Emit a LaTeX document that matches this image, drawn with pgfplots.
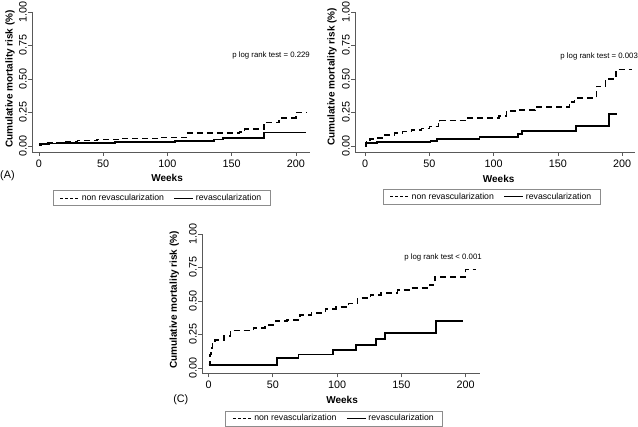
\documentclass[border=0pt]{standalone}
\usepackage{pgfplots}
\pgfplotsset{compat=1.18}
\usepackage{fontspec}
\setmainfont{Liberation Sans}
\definecolor{axgray}{gray}{0.35}
\pgfplotsset{
  km/.style={
    scale only axis, clip=false,
    axis x line*=bottom, axis y line*=left,
    axis line style={draw=axgray, line width=0.7pt},
    tick style={draw=axgray, line width=0.7pt},
    tick align=outside, major tick length=4pt,
    xtick={0,50,100,150,200},
    ytick={0,0.25,0.5,0.75,1},
    yticklabels={0.00,0.25,0.50,0.75,1.00},
    /pgf/number format/assume math mode=true,
    ticklabel style={font=\fontsize{10.8}{12}\selectfont},
    yticklabel style={rotate=90, anchor=south, inner sep=1pt},
    xlabel={Weeks},
    ylabel={Cumulative mortality risk (\%)},
    label style={font=\fontsize{10}{12}\selectfont\bfseries},
    legend columns=2,
    legend cell align=left,
    legend style={draw=black!45, line width=0.6pt, anchor=center,
      font=\fontsize{8.7}{10}\selectfont, inner xsep=7pt, inner ysep=1.5pt,
      /tikz/every even column/.append style={column sep=8pt}},
    legend image code/.code={\draw[#1] (0pt,0pt) -- (19pt,0pt);},
  },
  ndash/.style={black, line width=1.6pt, dash pattern=on 6pt off 4pt, const plot},
  nsolid/.style={black, line width=1.8pt, const plot},
}
\begin{document}
\begin{tikzpicture}
\path[use as bounding box] (0,0) rectangle (638pt,-427pt);

% ---------------- Panel A ----------------
\begin{axis}[km, at={(32pt,-152pt)}, anchor=south west,
  width=278pt, height=140pt,
  xmin=-5.4, xmax=211, ymin=-0.045, ymax=1.0,
  xlabel style={at={(axis description cs:0.486,-0.186)}, anchor=center},
  ylabel style={at={(axis description cs:-0.079,0.521)}, anchor=center, rotate=0},
  legend style={at={(axis description cs:0.466,-0.329)}}]
\addplot[ndash, forget plot] coordinates {(0,0.005) (1,0.015) (5,0.022) (14,0.027) (20,0.033) (30,0.04) (45,0.048) (62,0.055) (95,0.063) (115,0.095) (156,0.105) (160,0.125) (175,0.175) (187,0.21) (200,0.25) (208,0.25)};
\addplot[nsolid, forget plot] coordinates {(0,0.005) (2,0.015) (8,0.018) (18,0.022) (59,0.027) (94,0.032) (106,0.037) (136,0.048) (143,0.057) (175,0.10) (208,0.10)};
\addlegendimage{black, line width=0.9pt, dash pattern=on 3pt off 2pt}
\addlegendentry{non revascularization}
\addlegendimage{black, line width=1pt}
\addlegendentry{revascularization}
\node[anchor=east, inner sep=0pt, font=\fontsize{7.8}{9}\selectfont] at (axis description cs:1,0.686) {p log rank test = 0.229};
\node[anchor=west, inner sep=0pt, font=\fontsize{10.8}{12}\selectfont] at (axis description cs:-0.115,-0.171) {(A)};
\end{axis}

% ---------------- Panel B ----------------
\begin{axis}[km, at={(355pt,-152pt)}, anchor=south west,
  width=280pt, height=140pt,
  xmin=-7.8, xmax=210, ymin=-0.045, ymax=1.0,
  xlabel style={at={(axis description cs:0.513,-0.193)}, anchor=center},
  ylabel style={at={(axis description cs:-0.082,0.536)}, anchor=center, rotate=0},
  legend style={at={(axis description cs:0.4875,-0.321)}}]
\addplot[ndash, forget plot] coordinates {(0,0.0) (1,0.03) (4,0.05) (8,0.06) (14,0.08) (23,0.095) (29,0.107) (36,0.12) (44,0.13) (50,0.145) (57,0.165) (58,0.19) (79,0.21) (104,0.223) (110,0.263) (120,0.27) (132,0.29) (159,0.33) (163,0.36) (180,0.445) (187,0.50) (195,0.57) (208,0.57)};
\addplot[nsolid, forget plot] coordinates {(0,0.0) (1,0.02) (9,0.03) (51,0.04) (56,0.05) (89,0.065) (119,0.087) (122,0.113) (164,0.149) (190,0.238) (196,0.238)};
\addlegendimage{black, line width=0.9pt, dash pattern=on 3pt off 2pt}
\addlegendentry{non revascularization}
\addlegendimage{black, line width=1pt}
\addlegendentry{revascularization}
\node[anchor=east, inner sep=0pt, font=\fontsize{7.8}{9}\selectfont] at (axis description cs:1.011,0.679) {p log rank test = 0.003};
\end{axis}

% ---------------- Panel C ----------------
\begin{axis}[km, at={(202pt,-373.3pt)}, anchor=south west,
  width=278pt, height=139.3pt,
  xmin=-5.1, xmax=211.2, ymin=-0.04, ymax=1.0,
  xlabel style={at={(axis description cs:0.504,-0.192)}, anchor=center},
  ylabel style={at={(axis description cs:-0.1,0.526)}, anchor=center, rotate=0},
  legend style={at={(axis description cs:0.475,-0.324)}}]
\addplot[ndash, forget plot] coordinates {(0,0.02) (1,0.10) (2,0.15) (3,0.19) (5,0.21) (12,0.24) (17,0.28) (35,0.30) (44,0.32) (52,0.35) (61,0.36) (71,0.395) (80,0.41) (91,0.44) (99,0.453) (109,0.48) (116,0.52) (126,0.545) (134,0.56) (147,0.58) (157,0.595) (172,0.62) (176,0.68) (200,0.736) (208,0.736)};
\addplot[nsolid, forget plot] coordinates {(0,0.02) (53,0.072) (70,0.10) (97,0.134) (115,0.17) (130,0.214) (137,0.26) (177,0.353) (198,0.353)};
\addlegendimage{black, line width=0.9pt, dash pattern=on 3pt off 2pt}
\addlegendentry{non revascularization}
\addlegendimage{black, line width=1pt}
\addlegendentry{revascularization}
\node[anchor=east, inner sep=0pt, font=\fontsize{7.8}{9}\selectfont] at (axis description cs:1.007,0.828) {p log rank test < 0.001};
\node[anchor=west, inner sep=0pt, font=\fontsize{10.8}{12}\selectfont] at (axis description cs:-0.104,-0.192) {(C)};
\end{axis}
\end{tikzpicture}
\end{document}
